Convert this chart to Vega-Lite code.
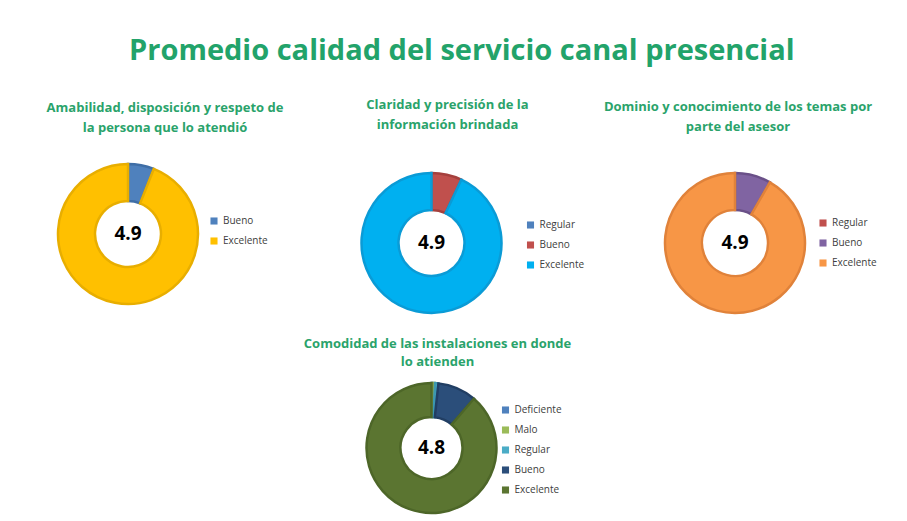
{
  "$schema": "https://vega.github.io/schema/vega-lite/v6.json",
  "background": "white",
  "bounds": "flush",
  "padding": {"left": 46, "top": 37, "right": 10, "bottom": 5},
  "title": {
    "text": "Promedio calidad del servicio canal presencial",
    "font": "Open Sans",
    "fontSize": 29,
    "fontWeight": "bold",
    "color": "#22a36a",
    "anchor": "middle",
    "offset": 33
  },
  "resolve": {"scale": {"color": "independent", "stroke": "independent", "theta": "independent"}, "legend": {"color": "independent"}},
  "columns": 3,
  "spacing": {"row": 70, "column": 163.5},
  "center": false,
  "concat": [
    {
      "width": 140,
      "height": 122,
      "title": {"text": ["Amabilidad, disposición y respeto de", "la persona que lo atendió"], "dx": 37, "offset": 24},
      "layer": [
        {
          "data": {"values": [
            {"categoria": "Bueno", "porcentaje": 6, "orden": 1},
            {"categoria": "Excelente", "porcentaje": 94, "orden": 2}
          ]},
          "mark": {"type": "arc", "innerRadius": 33, "outerRadius": 70, "strokeWidth": 2.5},
          "encoding": {
            "theta": {"field": "porcentaje", "type": "quantitative", "stack": true},
            "order": {"field": "orden", "type": "quantitative"},
            "color": {"field": "categoria", "type": "nominal", "scale": {"domain": ["Bueno", "Excelente"], "range": ["#4f81bd", "#ffc000"]}, "legend": {"orient": "none", "legendX": 151, "legendY": 43}},
            "stroke": {"field": "categoria", "type": "nominal", "scale": {"domain": ["Bueno", "Excelente"], "range": ["#3f6ea6", "#e8ae00"]}, "legend": null}
          }
        },
        {
          "data": {"values": [{"promedio": "4.9"}]},
          "mark": {"type": "text", "fontSize": 19, "fontWeight": "bold", "font": "Open Sans", "color": "black"},
          "encoding": {"text": {"field": "promedio", "type": "nominal"}}
        }
      ]
    },
    {
      "width": 140,
      "height": 140,
      "title": {"text": ["Claridad y precisión de la", "información brindada"], "dx": 16, "offset": 36},
      "layer": [
        {
          "data": {"values": [
            {"categoria": "Regular", "porcentaje": 0, "orden": 1},
            {"categoria": "Bueno", "porcentaje": 7, "orden": 2},
            {"categoria": "Excelente", "porcentaje": 93, "orden": 3}
          ]},
          "mark": {"type": "arc", "innerRadius": 33, "outerRadius": 70, "strokeWidth": 2.5},
          "encoding": {
            "theta": {"field": "porcentaje", "type": "quantitative", "stack": true},
            "order": {"field": "orden", "type": "quantitative"},
            "color": {"field": "categoria", "type": "nominal", "scale": {"domain": ["Regular", "Bueno", "Excelente"], "range": ["#4f81bd", "#c0504d", "#00b0f0"]}, "legend": {"orient": "none", "legendX": 164, "legendY": 47}},
            "stroke": {"field": "categoria", "type": "nominal", "scale": {"domain": ["Regular", "Bueno", "Excelente"], "range": ["#3f6ea6", "#a5403d", "#0a9bd6"]}, "legend": null}
          }
        },
        {
          "data": {"values": [{"promedio": "4.9"}]},
          "mark": {"type": "text", "fontSize": 19, "fontWeight": "bold", "font": "Open Sans", "color": "black"},
          "encoding": {"text": {"field": "promedio", "type": "nominal"}}
        }
      ]
    },
    {
      "width": 140,
      "height": 140,
      "title": {"text": ["Dominio y conocimiento de los temas por", "parte del asesor"], "dx": 3, "offset": 34},
      "layer": [
        {
          "data": {"values": [
            {"categoria": "Regular", "porcentaje": 0, "orden": 1},
            {"categoria": "Bueno", "porcentaje": 8.3, "orden": 2},
            {"categoria": "Excelente", "porcentaje": 91.7, "orden": 3}
          ]},
          "mark": {"type": "arc", "innerRadius": 33, "outerRadius": 70, "strokeWidth": 2.5},
          "encoding": {
            "theta": {"field": "porcentaje", "type": "quantitative", "stack": true},
            "order": {"field": "orden", "type": "quantitative"},
            "color": {"field": "categoria", "type": "nominal", "scale": {"domain": ["Regular", "Bueno", "Excelente"], "range": ["#c0504d", "#8064a2", "#f79646"]}, "legend": {"orient": "none", "legendX": 153, "legendY": 45}},
            "stroke": {"field": "categoria", "type": "nominal", "scale": {"domain": ["Regular", "Bueno", "Excelente"], "range": ["#a5403d", "#6a5088", "#e0823a"]}, "legend": null}
          }
        },
        {
          "data": {"values": [{"promedio": "4.9"}]},
          "mark": {"type": "text", "fontSize": 19, "fontWeight": "bold", "font": "Open Sans", "color": "black"},
          "encoding": {"text": {"field": "promedio", "type": "nominal"}}
        }
      ]
    },
    {
      "width": 140,
      "height": 130,
      "data": {"values": []},
      "mark": {"type": "point", "opacity": 0},
      "encoding": {}
    },
    {
      "width": 140,
      "height": 130,
      "title": {"text": ["Comodidad de las instalaciones en donde", "lo atienden"], "dx": 6, "offset": 9, "lineHeight": 18},
      "layer": [
        {
          "data": {"values": [
            {"categoria": "Deficiente", "porcentaje": 0.3, "orden": 1},
            {"categoria": "Malo", "porcentaje": 0.6, "orden": 2},
            {"categoria": "Regular", "porcentaje": 0.8, "orden": 3},
            {"categoria": "Bueno", "porcentaje": 9.6, "orden": 4},
            {"categoria": "Excelente", "porcentaje": 88.7, "orden": 5}
          ]},
          "mark": {"type": "arc", "innerRadius": 31, "outerRadius": 65, "strokeWidth": 2.5},
          "encoding": {
            "theta": {"field": "porcentaje", "type": "quantitative", "stack": true},
            "order": {"field": "orden", "type": "quantitative"},
            "color": {"field": "categoria", "type": "nominal", "scale": {"domain": ["Deficiente", "Malo", "Regular", "Bueno", "Excelente"], "range": ["#4f81bd", "#9bbb59", "#4bacc6", "#2b4e7a", "#5b7531"]}, "legend": {"orient": "none", "legendX": 139, "legendY": 22}},
            "stroke": {"field": "categoria", "type": "nominal", "scale": {"domain": ["Deficiente", "Malo", "Regular", "Bueno", "Excelente"], "range": ["#3f6ea6", "#86a64a", "#3b97b0", "#213e63", "#4d6628"]}, "legend": null}
          }
        },
        {
          "data": {"values": [{"promedio": "4.8"}]},
          "mark": {"type": "text", "fontSize": 19, "fontWeight": "bold", "font": "Open Sans", "color": "black"},
          "encoding": {"text": {"field": "promedio", "type": "nominal"}}
        }
      ]
    }
  ],
  "config": {
    "view": {"stroke": null},
    "title": {"font": "Open Sans", "fontSize": 13, "fontWeight": "bold", "color": "#2aa36b", "lineHeight": 20, "anchor": "middle"},
    "legend": {"title": null, "labelFont": "Open Sans", "labelFontSize": 10, "labelColor": "#404040", "symbolType": "square", "symbolSize": 50, "symbolStrokeWidth": 0, "rowPadding": 10, "labelOffset": 4}
  }
}
